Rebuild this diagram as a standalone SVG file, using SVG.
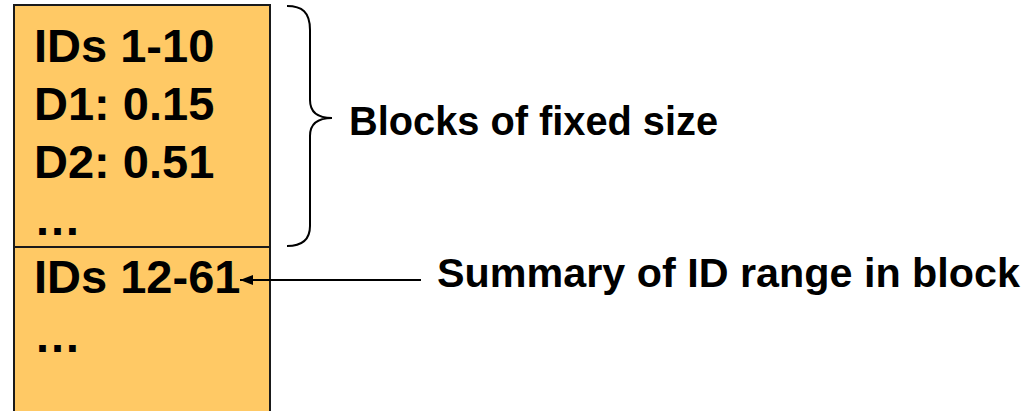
<svg xmlns="http://www.w3.org/2000/svg" width="1030" height="411" viewBox="0 0 1030 411">
<style>
.box{fill:#FFC965;stroke:#1a1a1a;stroke-width:2}
.t{font-family:"Liberation Sans",Arial,sans-serif;font-weight:bold;font-size:47px;fill:#000}
.l{font-family:"Liberation Sans",Arial,sans-serif;font-weight:bold;font-size:40px;fill:#000}
.c{fill:none;stroke:#000;stroke-width:2}
</style>
<defs>
<marker id="ah" viewBox="0 0 13 10" refX="13" refY="5" markerWidth="13" markerHeight="10" markerUnits="userSpaceOnUse" orient="auto">
<path d="M0,0 L13,5 L0,10 Z" fill="#000"/>
</marker>
</defs>
<g id="block1">
<rect class="box" x="14" y="5" width="256" height="242"/>
<text class="t" x="34" y="62">IDs 1-10</text>
<text class="t" x="34" y="120">D1: 0.15</text>
<text class="t" x="34" y="178">D2: 0.51</text>
<text class="t" x="34" y="235">…</text>
</g>
<g id="block2">
<rect class="box" x="14" y="247" width="256" height="180"/>
<text class="t" x="34" y="293">IDs 12-61</text>
<text class="t" x="34" y="352">…</text>
</g>
<g id="label1">
<text class="l" x="349" y="135" textLength="369" lengthAdjust="spacingAndGlyphs">Blocks of fixed size</text>
</g>
<g id="label2">
<text class="l" x="437" y="287" textLength="583" lengthAdjust="spacingAndGlyphs">Summary of ID range in block</text>
</g>
<g id="connectors">
<path class="c" d="M287,6 C302,6 310,12 310,30 L310,100 C310,112 318,118 332,118 C318,118 310,124 310,136 L310,226 C310,240 302,246 287,246"/>
<line class="c" x1="421" y1="280" x2="240" y2="280" marker-end="url(#ah)"/>
</g>
</svg>
